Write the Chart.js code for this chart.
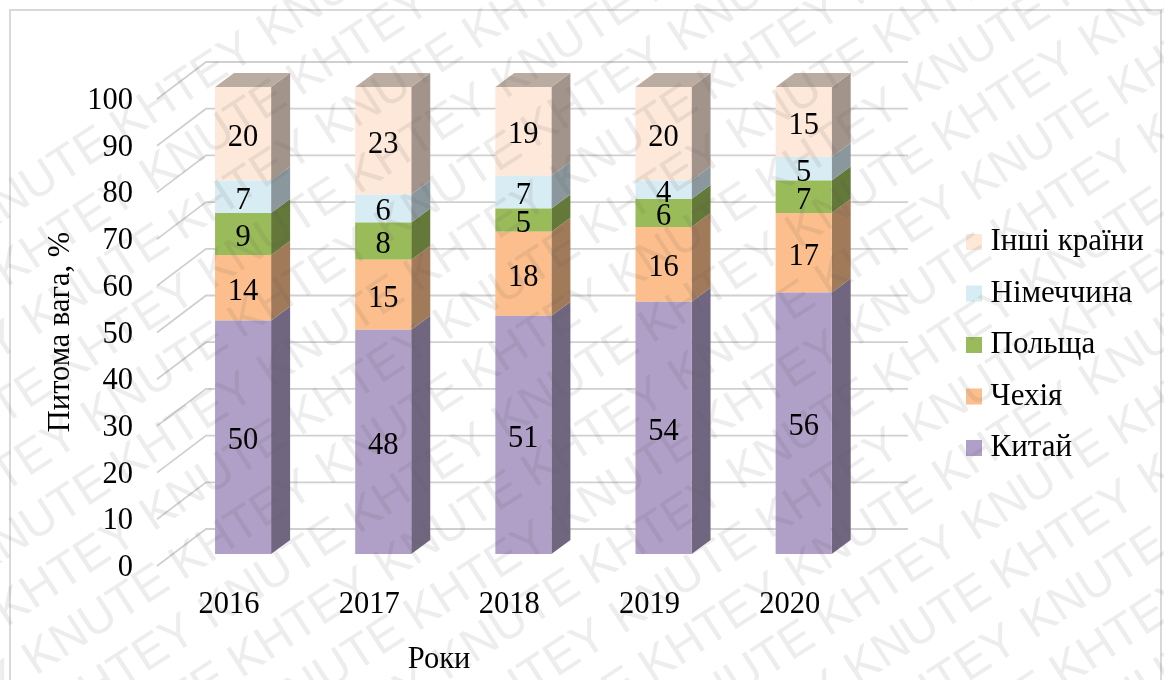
<!DOCTYPE html>
<html>
<head>
<meta charset="utf-8">
<title>Питома вага</title>
<script src="https://cdn.jsdelivr.net/npm/chart.js@4"></script>
<style>
  html, body { margin: 0; padding: 0; background: #fff; }
  #box { width: 1164px; height: 680px; }
</style>
</head>
<body>
<div id="box"><canvas id="chart" width="1164" height="680"></canvas></div>
<script>
const ROKY = ["2016", "2017", "2018", "2019", "2020"];
const KYTAI = [50, 48, 51, 54, 56];
const CHEKHIA = [14, 15, 18, 16, 17];
const POLSHCHA = [9, 8, 5, 6, 7];
const NIMECHCHYNA = [7, 6, 7, 4, 5];
const INSHI = [20, 23, 19, 20, 15];

const SERIF = "'Liberation Serif', 'Times New Roman', serif";

// глибина стовпчиків та задньої стінки
const BAR_DX = 19, BAR_DY = 14;
const WALL_DX = 33, WALL_DY = 25;

function zatemnyty(hex, k) {
  const n = parseInt(hex.slice(1), 16);
  const c = [n >> 16, (n >> 8) & 255, n & 255].map((v) => Math.round(v * k));
  return `rgb(${c.join(",")})`;
}

function polygon(ctx, pts, fill) {
  ctx.beginPath();
  pts.forEach(([x, y], i) => (i ? ctx.lineTo(x, y) : ctx.moveTo(x, y)));
  ctx.closePath();
  ctx.fillStyle = fill;
  ctx.fill();
}

/* ---------------- стінка, грані, підписи, водяний знак ---------------- */
const ob3d = {
  id: "ob3d",
  afterLayout(chart) {
    // легенда стоїть окремо від області графіка
    const l = chart.legend;
    l.left = 952.5; l.right = 1164;
    l.top = 206; l.bottom = 680;
  },
  beforeDraw(chart) {
    const { ctx, height } = chart;
    ctx.save();
    ctx.strokeStyle = "#d9d9d9";
    ctx.lineWidth = 2;
    ctx.strokeRect(10, 10, 1151, height + 20);
    ctx.restore();
  },
  beforeDatasetsDraw(chart) {
    const { ctx, chartArea, scales } = chart;
    ctx.save();
    ctx.strokeStyle = "#d0d0d0";
    ctx.lineWidth = 1.8;
    scales.y.ticks.forEach((t) => {
      const y = scales.y.getPixelForValue(t.value);
      ctx.beginPath();
      ctx.moveTo(157, y + 12);
      ctx.lineTo(chartArea.left + WALL_DX, y - WALL_DY);
      ctx.lineTo(908, y - WALL_DY);
      ctx.stroke();
    });
    // бокові та верхні грані
    chart.data.datasets.forEach((ds, i) => {
      chart.getDatasetMeta(i).data.forEach((bar) => {
        const { x, y, base, width: w } = bar.getProps(["x", "y", "base", "width"]);
        const r = x + w / 2, l = x - w / 2;
        polygon(ctx, [[r, y], [r + BAR_DX, y - BAR_DY], [r + BAR_DX, base - BAR_DY], [r, base]], zatemnyty(ds.backgroundColor, 0.64));
        if (i === chart.data.datasets.length - 1) {
          polygon(ctx, [[l, y], [l + BAR_DX, y - BAR_DY], [r + BAR_DX, y - BAR_DY], [r, y]], zatemnyty(ds.backgroundColor, 0.74));
        }
      });
    });
    ctx.restore();
  },
  afterDatasetsDraw(chart) {
    const { ctx } = chart;
    ctx.save();
    ctx.fillStyle = "#000";
    ctx.font = "30.5px " + SERIF;
    ctx.textAlign = "center";
    ctx.textBaseline = "middle";
    chart.data.datasets.forEach((ds, i) => {
      chart.getDatasetMeta(i).data.forEach((bar, j) => {
        const { x, y, base } = bar.getProps(["x", "y", "base"]);
        ctx.fillText(ds.data[j], x, (y + base) / 2 + 4);
      });
    });
    // назви осей
    ctx.fillText("Роки", 439, 660);
    ctx.translate(61, 332);
    ctx.rotate(-Math.PI / 2);
    ctx.fillText("Питома вага, %", 0, 0);
    ctx.restore();
  },
  afterDraw(chart) {
    const { ctx } = chart;
    ctx.save();
    ctx.fillStyle = "rgba(90,90,90,0.11)";
    ctx.font = "48px 'Liberation Sans', Arial, sans-serif";
    ctx.translate(975, 542);
    ctx.rotate(-33 * Math.PI / 180);
    for (let row = -14; row <= 10; row++) {
      for (let col = -8; col <= 4; col++) {
        const word = (row + col) % 2 === 0 ? "KNUTE" : "KHTEY";
        ctx.fillText(word, col * 175 - row * 2, row * 57);
      }
    }
    ctx.restore();
  },
};

new Chart(document.getElementById("chart"), {
  type: "bar",
  data: {
    labels: ROKY,
    datasets: [
      { label: "Китай", data: KYTAI, backgroundColor: "#B09FC6" },
      { label: "Чехія", data: CHEKHIA, backgroundColor: "#FCBE8C" },
      { label: "Польща", data: POLSHCHA, backgroundColor: "#9ABB59" },
      { label: "Німеччина", data: NIMECHCHYNA, backgroundColor: "#D8ECF3" },
      { label: "Інші країни", data: INSHI, backgroundColor: "#FDE8D9" },
    ],
  },
  options: {
    responsive: false,
    animation: false,
    layout: { padding: { top: 87, right: 89, left: 0, bottom: 0 } },
    datasets: { bar: { barPercentage: 0.4, categoryPercentage: 1 } },
    scales: {
      x: {
        stacked: true,
        afterFit: (s) => { s.height = 126; },
        grid: { display: false },
        border: { display: false },
        ticks: { color: "#000", font: { family: SERIF, size: 30.5 }, padding: 25, labelOffset: -14, maxRotation: 0 },
      },
      y: {
        stacked: true,
        min: 0,
        max: 100,
        afterFit: (s) => { s.width = 173; },
        grid: { display: false },
        border: { display: false },
        ticks: { color: "#000", font: { family: SERIF, size: 30.5 }, stepSize: 10, padding: 32, labelOffset: 14 },
      },
    },
    plugins: {
      tooltip: { enabled: false },
      legend: {
        position: "right",
        align: "start",
        reverse: true,
        labels: {
          color: "#000",
          font: { family: SERIF, size: 31 },
          usePointStyle: true,
          pointStyle: "rect",
          boxWidth: 2,
          boxHeight: 16,
          padding: 20.5,
        },
      },
    },
  },
  plugins: [ob3d],
});
</script>
</body>
</html>
